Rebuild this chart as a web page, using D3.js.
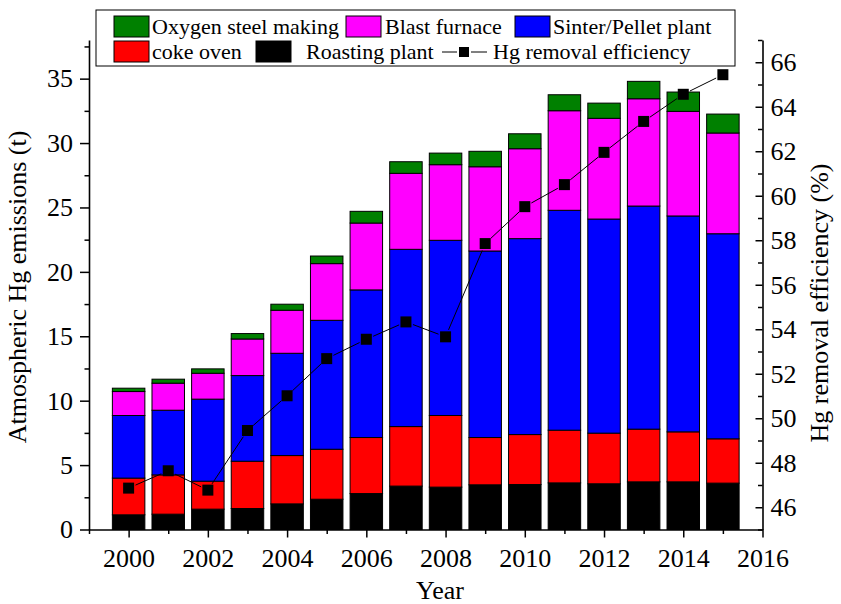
<!DOCTYPE html>
<html>
<head>
<meta charset="utf-8">
<script src="https://cdn.jsdelivr.net/npm/d3@7"></script>
<style>
  html, body { margin: 0; padding: 0; background: #fff; }
  svg { display: block; }
  text { font-family: "Liberation Serif", "Times New Roman", serif; fill: #000; }
</style>
</head>
<body>
<svg id="chart" width="841" height="604"></svg>
<script>
// ---- data ----
const years = [2000, 2001, 2002, 2003, 2004, 2005, 2006, 2007, 2008, 2009, 2010, 2011, 2012, 2013, 2014, 2015];
const roastingPlant = [1.14, 1.19, 1.58, 1.63, 1.99, 2.35, 2.79, 3.37, 3.29, 3.47, 3.49, 3.62, 3.55, 3.70, 3.70, 3.60];
const cokeOven      = [2.85, 3.05, 2.17, 3.67, 3.75, 3.88, 4.35, 4.62, 5.56, 3.67, 3.88, 4.09, 3.93, 4.09, 3.88, 3.44];
const sinterPellet  = [4.86, 5.02, 6.37, 6.65, 7.94, 10.01, 11.46, 13.76, 13.60, 14.48, 15.21, 17.07, 16.62, 17.32, 16.76, 15.92];
const blastFurnace  = [1.86, 2.10, 2.01, 2.84, 3.34, 4.40, 5.19, 5.90, 5.87, 6.54, 6.98, 7.73, 7.82, 8.33, 8.12, 7.82];
const oxygenSteel   = [0.26, 0.31, 0.34, 0.42, 0.47, 0.59, 0.91, 0.90, 0.90, 1.20, 1.16, 1.24, 1.18, 1.35, 1.50, 1.47];
const removalEff    = [46.86, 47.64, 46.77, 49.45, 51.01, 52.68, 53.55, 54.33, 53.66, 57.85, 59.51, 60.50, 61.95, 63.34, 64.56, 65.44];

const seriesNames  = ["Roasting plant", "coke oven", "Sinter/Pellet plant", "Blast furnace", "Oxygen steel making"];
const seriesColors = ["#000000", "#ff0000", "#0000ff", "#ff00ff", "#008000"];
const seriesValues = [roastingPlant, cokeOven, sinterPellet, blastFurnace, oxygenSteel];

const xTicksMajor = [2000, 2002, 2004, 2006, 2008, 2010, 2012, 2014, 2016];
const xTicksMinor = [1999, 2001, 2003, 2005, 2007, 2009, 2011, 2013, 2015];
const yLTicksMajor = [0, 5, 10, 15, 20, 25, 30, 35];
const yLTicksMinor = [2.5, 7.5, 12.5, 17.5, 22.5, 27.5, 32.5, 37.5];
const yRTicksMajor = [46, 48, 50, 52, 54, 56, 58, 60, 62, 64, 66];
const yRTicksMinor = [45, 47, 49, 51, 53, 55, 57, 59, 61, 63, 65, 67];

// ---- layout ----
const L = 89, R = 762.5, T = 40, B = 529.5;
const svg = d3.select("#chart");

const x = d3.scaleLinear().domain([1999, 2016]).range([L, R]);
const yL = d3.scaleLinear().domain([0, 38]).range([B, T]);
const yR = d3.scaleLinear().domain([45, 67]).range([B, T]);
const barW = (x(2001) - x(2000)) * 0.82;

// stacked data
const table = years.map((yr, i) => {
  const o = { year: yr };
  seriesNames.forEach((n, k) => o[n] = seriesValues[k][i]);
  return o;
});
const stacked = d3.stack().keys(seriesNames)(table);

const gBars = svg.append("g");
stacked.forEach((layer, k) => {
  gBars.selectAll(null).data(layer).enter().append("rect")
    .attr("x", d => x(d.data.year) - barW / 2)
    .attr("width", barW)
    .attr("y", d => yL(d[1]))
    .attr("height", d => yL(d[0]) - yL(d[1]))
    .attr("fill", seriesColors[k])
    .attr("stroke", "#000")
    .attr("stroke-width", 1);
});

// ---- axes ----
function styleAxis(g) {
  g.select(".domain").attr("stroke", "#000").attr("stroke-width", 1.6);
  g.selectAll(".tick line").attr("stroke", "#000").attr("stroke-width", 1.5);
  g.selectAll("text").style("font-family", "'Liberation Serif', serif").style("font-size", "26px");
}

// bottom
const gxMinor = svg.append("g").attr("transform", `translate(0,${B})`)
  .call(d3.axisBottom(x).tickValues(xTicksMinor).tickSize(4.5).tickFormat(""));
gxMinor.select(".domain").remove();
gxMinor.selectAll(".tick line").attr("stroke", "#000").attr("stroke-width", 1.5);
const gx = svg.append("g").attr("transform", `translate(0,${B})`)
  .call(d3.axisBottom(x).tickValues(xTicksMajor).tickSize(8).tickSizeOuter(0).tickPadding(11).tickFormat(d3.format("d")));
styleAxis(gx);

// left
const gyLMinor = svg.append("g").attr("transform", `translate(${L},0)`)
  .call(d3.axisLeft(yL).tickValues(yLTicksMinor).tickSize(4.5).tickFormat(""));
gyLMinor.select(".domain").remove();
gyLMinor.selectAll(".tick line").attr("stroke", "#000").attr("stroke-width", 1.5);
const gyL = svg.append("g").attr("transform", `translate(${L},0)`)
  .call(d3.axisLeft(yL).tickValues(yLTicksMajor).tickSize(9).tickSizeOuter(0).tickPadding(7));
styleAxis(gyL);

// right (ticks inward)
const gyRMinor = svg.append("g").attr("transform", `translate(${R},0)`)
  .call(d3.axisRight(yR).tickValues(yRTicksMinor).tickSize(-4.5).tickFormat(""));
gyRMinor.select(".domain").remove();
gyRMinor.selectAll(".tick line").attr("stroke", "#000").attr("stroke-width", 1.5);
const gyR = svg.append("g").attr("transform", `translate(${R},0)`)
  .call(d3.axisRight(yR).tickValues(yRTicksMajor).tickSizeInner(-7).tickSizeOuter(0).tickPadding(8));
styleAxis(gyR);

// ---- efficiency line ----
const pts = years.map((yr, i) => [x(yr), yR(removalEff[i])]);
const gLine = svg.append("g");
const gap = 7.5;
for (let i = 0; i < pts.length - 1; i++) {
  const [x1, y1] = pts[i], [x2, y2] = pts[i + 1];
  const dx = x2 - x1, dy = y2 - y1, len = Math.hypot(dx, dy);
  if (len <= 2 * gap) continue;
  const ux = dx / len, uy = dy / len;
  gLine.append("line")
    .attr("x1", x1 + ux * gap).attr("y1", y1 + uy * gap)
    .attr("x2", x2 - ux * gap).attr("y2", y2 - uy * gap)
    .attr("stroke", "#000").attr("stroke-width", 1);
}
const mk = 11;
gLine.selectAll("rect.m").data(years).enter().append("rect")
  .attr("class", "m")
  .attr("x", (d, i) => x(d) - mk / 2)
  .attr("y", (d, i) => yR(removalEff[i]) - mk / 2)
  .attr("width", mk).attr("height", mk)
  .attr("fill", "#000");

// ---- axis titles ----
svg.append("text").attr("x", 440).attr("y", 599).attr("text-anchor", "middle")
  .style("font-size", "26px").text("Year");
svg.append("text").attr("transform", "translate(26,287) rotate(-90)").attr("text-anchor", "middle")
  .style("font-size", "26px").text("Atmospheric Hg emissions (t)");
svg.append("text").attr("transform", "translate(828,303) rotate(-90)").attr("text-anchor", "middle")
  .style("font-size", "26px").text("Hg removal efficiency (%)");

// ---- legend ----
const gLeg = svg.append("g");
gLeg.append("rect").attr("x", 96).attr("y", 10).attr("width", 639).attr("height", 56)
  .attr("fill", "#fff").attr("stroke", "#000").attr("stroke-width", 1);
const legItems = [
  { name: "Oxygen steel making", color: "#008000", sx: 114, tx: 152, row: 0 },
  { name: "Blast furnace", color: "#ff00ff", sx: 346, tx: 385, row: 0 },
  { name: "Sinter/Pellet plant", color: "#0000ff", sx: 515, tx: 553, row: 0 },
  { name: "coke oven", color: "#ff0000", sx: 114, tx: 152, row: 1 },
  { name: "Roasting plant", color: "#000000", sx: 256, tx: 306, row: 1 }
];
legItems.forEach(it => {
  const sy = it.row === 0 ? 16 : 41;
  gLeg.append("rect").attr("x", it.sx).attr("y", sy).attr("width", 35).attr("height", 21)
    .attr("fill", it.color).attr("stroke", "#000").attr("stroke-width", 1);
  gLeg.append("text").attr("x", it.tx).attr("y", sy + 18).style("font-size", "22px").text(it.name);
});
gLeg.append("line").attr("x1", 442).attr("x2", 457).attr("y1", 52).attr("y2", 52).attr("stroke", "#000").attr("stroke-width", 1);
gLeg.append("line").attr("x1", 471).attr("x2", 487).attr("y1", 52).attr("y2", 52).attr("stroke", "#000").attr("stroke-width", 1);
gLeg.append("rect").attr("x", 459).attr("y", 47).attr("width", 10).attr("height", 10).attr("fill", "#000");
gLeg.append("text").attr("x", 493).attr("y", 59).style("font-size", "22px").text("Hg removal efficiency");
</script>
</body>
</html>
